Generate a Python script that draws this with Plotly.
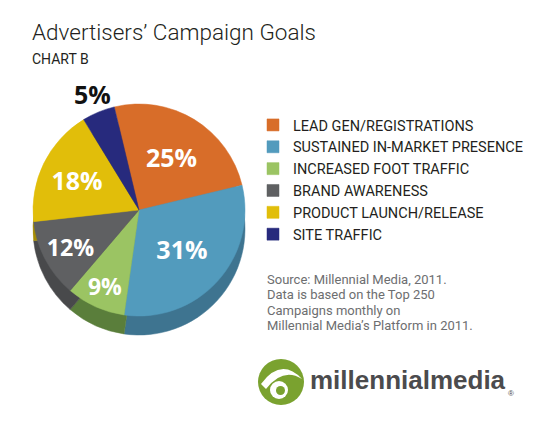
import plotly.graph_objects as go

# data
goals = ["LEAD GEN/REGISTRATIONS", "SUSTAINED IN-MARKET PRESENCE", "INCREASED FOOT TRAFFIC",
         "BRAND AWARENESS", "PRODUCT LAUNCH/RELEASE", "SITE TRAFFIC"]
shares = [25, 31, 9, 12, 18, 5]
top_colors = ["#d86d29", "#529bbd", "#9bc463", "#5f6062", "#e1be0a", "#272a7d"]
side_colors = ["#a9521c", "#3e7490", "#5a7e3b", "#48494b", "#a58c05", "#1c1e5c"]
# the small slice gets its label above the pie instead of inside
label_pos = ["inside", "inside", "inside", "inside", "inside", "none"]

source_lines = ["Source: Millennial Media, 2011.",
                "Data is based on the Top 250",
                "Campaigns monthly on",
                "Millennial Media\u2019s Platform in 2011."]

# page body has an 8px margin, so the figure is a bit smaller than the window
OFF = 8
W, H = 545 - OFF, 423 - OFF
FONT = "Roboto, Liberation Sans, sans-serif"


def px(x):
    return (x - OFF) / W


def py(y):
    return 1 - (y - OFF) / H


# pie geometry in window pixels
cx, cy, r, depth = 139, 210, 106, 19

fig = go.Figure()

# darker copy underneath, shifted down -> the 3d side of the pie
fig.add_trace(go.Pie(
    labels=goals, values=shares, sort=False, direction="clockwise", rotation=-13.5,
    marker=dict(colors=side_colors, line=dict(color=side_colors, width=0.5)),
    textinfo="none", hoverinfo="skip", showlegend=False,
    domain=dict(x=[px(cx - r), px(cx + r)], y=[py(cy + r + depth), py(cy - r + depth)]),
))

fig.add_trace(go.Pie(
    labels=goals, values=shares, sort=False, direction="clockwise", rotation=-13.5,
    marker=dict(colors=top_colors, line=dict(color=top_colors, width=0.5)),
    texttemplate="%{value}%", textposition=label_pos, insidetextorientation="horizontal",
    insidetextfont=dict(family="Open Sans, sans-serif", size=25, color="white", weight="bold"),
    hoverinfo="label+percent",
    domain=dict(x=[px(cx - r), px(cx + r)], y=[py(cy + r), py(cy - r)]),
))

annotations = [
    dict(x=px(30), y=py(32), text="Advertisers\u2019 Campaign Goals", xanchor="left", yanchor="middle",
         font=dict(family=FONT, size=22.5, color="#231f20", weight=300)),
    dict(x=px(30), y=py(59), text="CHART B", xanchor="left", yanchor="middle",
         font=dict(family=FONT, size=14, color="#231f20")),
    dict(x=px(92), y=py(94), text=f"{shares[-1]}%", xanchor="center", yanchor="middle",
         font=dict(family="Open Sans, sans-serif", size=25, color="#111111", weight="bold")),
    dict(x=px(408), y=py(380), text="millennialmedia", xanchor="center", yanchor="middle",
         font=dict(family="Liberation Sans, Arial, sans-serif", size=26, color="#4b4b4d", weight="bold")),
    dict(x=px(511), y=py(393), text="\u00ae", xanchor="center", yanchor="middle",
         font=dict(family="Liberation Sans, Arial, sans-serif", size=8, color="#4b4b4d")),
]
for i, line in enumerate(source_lines):
    annotations.append(dict(x=px(265), y=py(279 + i * 15.5), text=line, xanchor="left", yanchor="middle",
                            font=dict(family=FONT, size=13, color="#6d6e70")))
for a in annotations:
    a.update(xref="paper", yref="paper", showarrow=False)

# green eye logo
green = "#7aa22f"
shapes = [
    dict(type="circle", x0=px(258), x1=px(304), y0=py(405), y1=py(359),
         fillcolor=green, line=dict(width=0)),
    dict(type="path", path=f"M{px(261)},{py(384)} Q{px(281)},{py(357)} {px(302)},{py(379)} "
                           f"Q{px(283)},{py(367)} {px(266)},{py(389)} Z",
         fillcolor="white", line=dict(width=0)),
    dict(type="circle", x0=px(270), x1=px(288), y0=py(399), y1=py(381),
         fillcolor="white", line=dict(width=0)),
    dict(type="circle", x0=px(276), x1=px(285), y0=py(395), y1=py(386),
         fillcolor=green, line=dict(width=0)),
]
for s in shapes:
    s.update(xref="paper", yref="paper", layer="above")

fig.update_layout(
    width=W, height=H, autosize=False,
    margin=dict(l=0, r=0, t=0, b=0),
    paper_bgcolor="white", plot_bgcolor="white",
    legend=dict(x=px(253), y=py(109), xanchor="left", yanchor="top", traceorder="normal",
                font=dict(family=FONT, size=14.5, color="#231f20"), bgcolor="rgba(0,0,0,0)"),
    annotations=annotations, shapes=shapes,
)

fig.write_html("out.html", config={"displayModeBar": False})
